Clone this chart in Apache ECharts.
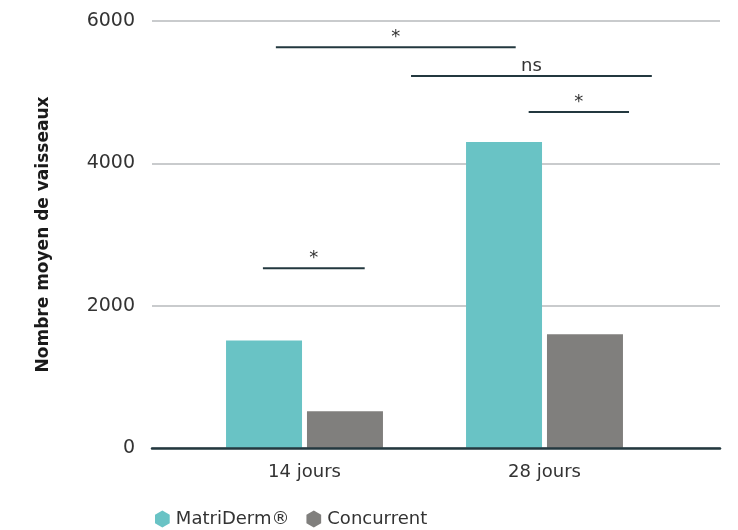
<!DOCTYPE html>
<html>
<head>
<meta charset="utf-8">
<script src="https://cdn.jsdelivr.net/npm/echarts@6/dist/echarts.min.js"></script>
<style>
  html, body { margin: 0; padding: 0; background: #ffffff; }
  #chart { width: 738px; height: 530px; }
</style>
</head>
<body>
<div id="chart"></div>
<script>
// Mean vessel count per time point, by product
const categories = ['14 jours', '28 jours'];
const seriesNames = ['MatriDerm®', 'Concurrent'];
const matriderm = [1510, 4300];
const concurrent = [515, 1600];
const yTicks = [0, 2000, 4000, 6000];

// Significance brackets: [start, end] in category units (0 = first group centre), level, label
const bracketStart = [-0.119, 0.444, 0.934, -0.173];
const bracketEnd = [0.880, 1.447, 1.352, 0.251];
const bracketLevel = [5632, 5228, 4722, 2526];
const bracketLabel = ['*', 'ns', '*', '*'];

const FONT = '"DejaVu Sans", sans-serif';
const TEXT = '#333333';
const DARK = '#23383f';

const chart = echarts.init(document.getElementById('chart'), null, { renderer: 'canvas' });

const brackets = bracketStart.map((s, i) => [s, bracketEnd[i], bracketLevel[i], bracketLabel[i]]);

const option = {
  backgroundColor: '#ffffff',
  animation: false,
  color: ['#69c3c5', '#807f7d'],
  legend: {
    data: seriesNames.map(n => ({
      name: n,
      icon: 'path://M0,-1 L0.866,-0.5 L0.866,0.5 L0,1 L-0.866,0.5 L-0.866,-0.5 Z'
    })),
    left: 150,
    top: 505,
    itemWidth: 17,
    itemHeight: 17,
    itemGap: 17,
    textStyle: { fontFamily: FONT, fontSize: 18, color: TEXT }
  },
  grid: [
    // full-width frame: value gridlines and baseline
    { left: 152, right: 18, top: 21, bottom: 82, containLabel: false },
    // bar area
    { left: 184.5, right: 73.5, top: 21, bottom: 82, containLabel: false }
  ],
  xAxis: [
    {
      gridIndex: 0,
      type: 'value',
      min: -0.635,
      max: 1.731,
      z: 10,
      axisLine: { show: true, lineStyle: { color: DARK, width: 2.5 } },
      axisTick: { show: false },
      axisLabel: { show: false },
      splitLine: { show: false }
    },
    {
      gridIndex: 1,
      type: 'category',
      data: categories,
      axisLine: { show: false },
      axisTick: { show: false },
      axisLabel: { fontFamily: FONT, fontSize: 18, color: TEXT, margin: 15 },
      splitLine: { show: false }
    }
  ],
  yAxis: [
    {
      gridIndex: 0,
      type: 'value',
      min: yTicks[0],
      max: yTicks[yTicks.length - 1],
      interval: yTicks[1] - yTicks[0],
      name: 'Nombre moyen de vaisseaux',
      nameLocation: 'middle',
      nameGap: 100,
      nameTextStyle: { fontFamily: FONT, fontSize: 17, fontWeight: 'bold', color: '#1a1a1a' },
      axisLine: { show: false },
      axisTick: { show: false },
      axisLabel: {
        fontFamily: FONT, fontSize: 19, color: TEXT, margin: 17,
        formatter: v => String(v)
      },
      splitLine: { show: true, lineStyle: { color: '#c9cbcd', width: 2 } }
    },
    {
      gridIndex: 1,
      type: 'value',
      min: yTicks[0],
      max: yTicks[yTicks.length - 1],
      show: false,
      splitLine: { show: false }
    }
  ],
  series: [
    {
      name: seriesNames[0],
      type: 'bar',
      xAxisIndex: 1,
      yAxisIndex: 1,
      data: matriderm,
      barWidth: 76,
      barGap: '6.5%'
    },
    {
      name: seriesNames[1],
      type: 'bar',
      xAxisIndex: 1,
      yAxisIndex: 1,
      data: concurrent,
      barWidth: 76,
      barGap: '6.5%'
    },
    {
      name: 'brackets',
      type: 'custom',
      xAxisIndex: 0,
      yAxisIndex: 0,
      silent: true,
      z: 12,
      data: brackets,
      renderItem: function (params, api) {
        const p0 = api.coord([api.value(0), api.value(2)]);
        const p1 = api.coord([api.value(1), api.value(2)]);
        const label = brackets[params.dataIndex][3];
        return {
          type: 'group',
          children: [
            {
              type: 'line',
              shape: { x1: p0[0], y1: p0[1], x2: p1[0], y2: p1[1] },
              style: { stroke: DARK, lineWidth: 2 }
            },
            {
              type: 'text',
              x: (p0[0] + p1[0]) / 2,
              y: p0[1] - 1,
              style: {
                text: label,
                fontFamily: FONT,
                fontSize: 18,
                fill: TEXT,
                align: 'center',
                verticalAlign: 'bottom'
              }
            }
          ]
        };
      }
    }
  ]
};

chart.setOption(option);
</script>
</body>
</html>
